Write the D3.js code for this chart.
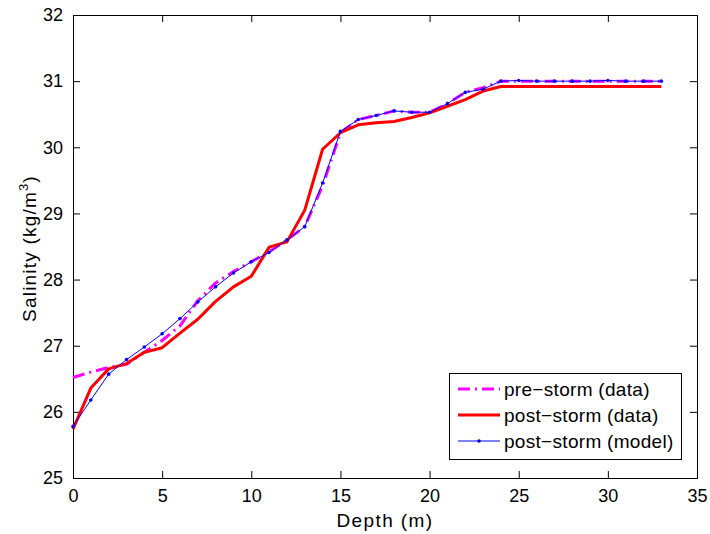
<!DOCTYPE html>
<html><head><meta charset="utf-8">
<script src="https://cdn.jsdelivr.net/npm/d3@7"></script>
<style>
html,body{margin:0;padding:0;background:#fff;}
svg text{font-family:"Liberation Sans",Arial,Helvetica,sans-serif;fill:#000;}
</style></head>
<body>
<svg id="c" width="710" height="534"></svg>
<script>
const depth = d3.range(0, 34);
const preStorm = [26.52,26.60,26.67,26.72,26.90,27.08,27.30,27.68,27.95,28.12,28.27,28.42,28.60,28.80,29.42,30.22,30.42,30.48,30.55,30.53,30.53,30.66,30.83,30.90,31.00,31.00,31.00,31.00,31.00,31.00,31.00,31.00,31.00,31.00];
const postStorm = [25.74,26.36,26.65,26.73,26.90,26.97,27.19,27.40,27.67,27.89,28.05,28.49,28.57,29.05,29.97,30.22,30.34,30.37,30.39,30.45,30.52,30.62,30.72,30.85,30.92,30.92,30.92,30.92,30.92,30.92,30.92,30.92,30.92,30.92];
const model = [25.78,26.18,26.57,26.79,26.98,27.18,27.41,27.66,27.89,28.10,28.27,28.41,28.60,28.80,29.46,30.24,30.42,30.48,30.55,30.53,30.53,30.66,30.83,30.88,31.00,31.01,31.00,31.00,31.00,31.00,31.01,31.00,31.00,31.00];
const xTicks = [0,5,10,15,20,25,30,35];
const yTicks = [25,26,27,28,29,30,31,32];
const seriesNames = ["pre\u2212storm (data)","post\u2212storm (data)","post\u2212storm (model)"];

const svg = d3.select("#c");
const L=73, R=697, T=15, B=478;
const x = d3.scaleLinear().domain([0,35]).range([L,R]);
const y = d3.scaleLinear().domain([25,32]).range([B,T]);
const fs = 18;

// axes
const tl = 7;
const gx = svg.append("g").attr("transform",`translate(0,${B})`)
  .call(d3.axisBottom(x).tickValues(xTicks).tickSize(-tl).tickPadding(11).tickFormat(d3.format("d")));
const gxt = svg.append("g").attr("transform",`translate(0,${T})`)
  .call(d3.axisTop(x).tickValues(xTicks).tickSize(-tl).tickFormat(""));
const gy = svg.append("g").attr("transform",`translate(${L},0)`)
  .call(d3.axisLeft(y).tickValues(yTicks).tickSize(-tl).tickPadding(10).tickFormat(d3.format("d")));
const gyr = svg.append("g").attr("transform",`translate(${R},0)`)
  .call(d3.axisRight(y).tickValues(yTicks).tickSize(-tl).tickFormat(""));
[gx,gxt,gy,gyr].forEach(g=>{
  g.select(".domain").attr("stroke","#000").attr("stroke-width",1);
  g.selectAll(".tick line").attr("stroke","#000").attr("stroke-width",1);
  g.selectAll(".tick text").attr("font-size",fs).attr("font-family","Liberation Sans, Arial, sans-serif").attr("fill","#000");
});
gx.selectAll(".tick text").attr("dy","0.71em");

const line = vals => d3.line().x((d,i)=>x(depth[i])).y(d=>y(d))(vals);

svg.append("path").attr("d",line(preStorm)).attr("fill","none")
  .attr("stroke","#ff00ff").attr("stroke-width",3).attr("stroke-dasharray","12,5,2,5");
svg.append("path").attr("d",line(postStorm)).attr("fill","none")
  .attr("stroke","#ff0000").attr("stroke-width",3).attr("stroke-linejoin","round");
svg.append("path").attr("d",line(model)).attr("fill","none")
  .attr("stroke","#0000ff").attr("stroke-width",1);
svg.append("g").selectAll("circle").data(model).join("circle")
  .attr("cx",(d,i)=>x(depth[i])).attr("cy",d=>y(d)).attr("r",1.8).attr("fill","#0000ff");

// labels
svg.append("text").attr("x",(L+R)/2).attr("y",527).attr("text-anchor","middle")
  .attr("font-size",19).attr("letter-spacing",1.4).text("Depth (m)");
const yl = svg.append("text").attr("transform",`translate(36,${(T+B)/2 + 2}) rotate(-90)`)
  .attr("text-anchor","middle").attr("font-size",19).attr("letter-spacing",1.2);
yl.append("tspan").text("Salinity (kg/m");
yl.append("tspan").attr("font-size",13).attr("dy",-8).text("3");
yl.append("tspan").attr("dy",8).text(")");

// legend
const lg = svg.append("g");
lg.append("rect").attr("x",449.5).attr("y",373.5).attr("width",232).attr("height",86)
  .attr("fill","#fff").attr("stroke","#000").attr("stroke-width",1);
const ly = [389,415,441];
const styles = [
  {c:"#ff00ff",w:3,da:"12,5,2,5"},
  {c:"#ff0000",w:3,da:null},
  {c:"#0000ff",w:1,da:null}
];
seriesNames.forEach((n,i)=>{
  lg.append("line").attr("x1",458).attr("x2",500).attr("y1",ly[i]).attr("y2",ly[i])
    .attr("stroke",styles[i].c).attr("stroke-width",styles[i].w).attr("stroke-dasharray",styles[i].da);
  if(i===2) lg.append("circle").attr("cx",479).attr("cy",ly[i]).attr("r",1.8).attr("fill","#0000ff");
  lg.append("text").attr("x",504).attr("y",ly[i]).attr("dy","0.36em").attr("font-size",19)
    .attr("letter-spacing",0.3).text(n);
});
</script>
</body></html>
